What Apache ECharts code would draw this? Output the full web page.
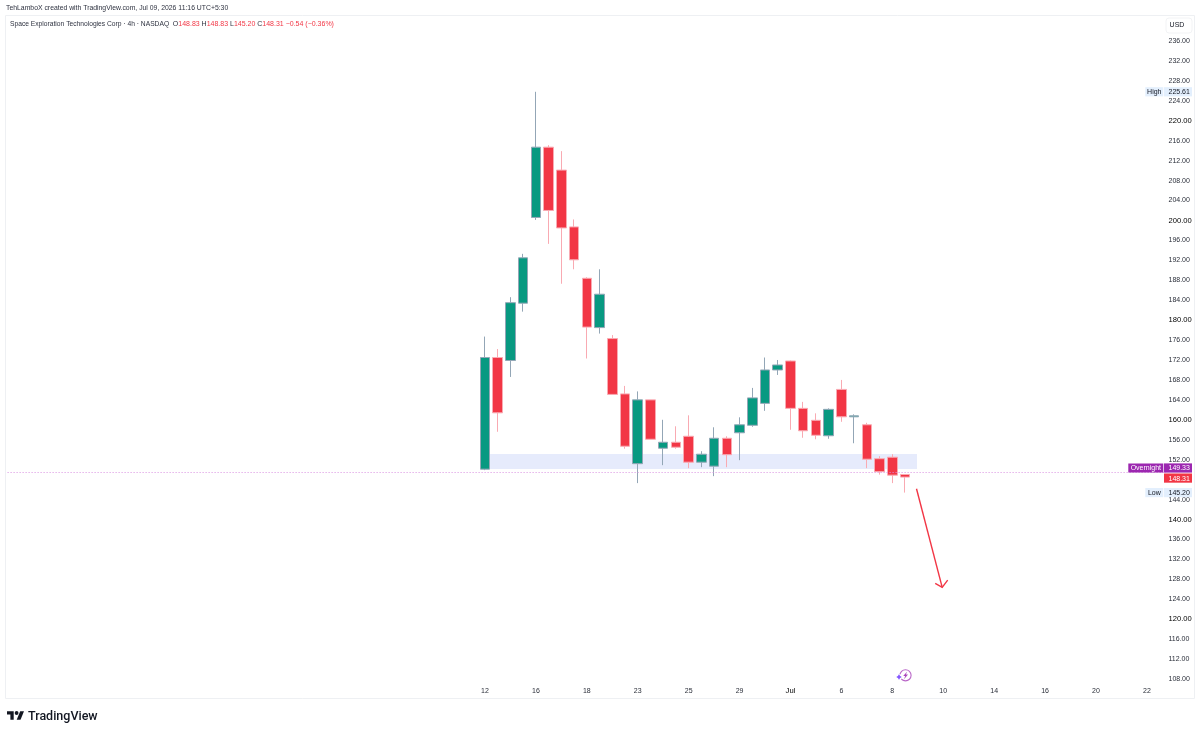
<!DOCTYPE html>
<html>
<head>
<meta charset="utf-8">
<title>Space Exploration Technologies Corp 4h</title>
<script src="https://cdn.jsdelivr.net/npm/echarts@6/dist/echarts.min.js"></script>
<style>
  html, body { margin: 0; padding: 0; background: #ffffff; }
  #chart { width: 1200px; height: 733px; }
</style>
</head>
<body>
<div id="chart"></div>
<script>
// 4h session bars, oldest first
const opens  = [149.9,172.3,171.7,183.2,200.4,214.5,209.9,198.5,188.2,178.3,176.1,165.0,151.0,163.8,154.1,155.3,156.5,151.3,150.5,156.1,157.2,158.7,163.1,169.8,171.6,162.1,159.7,156.6,165.9,160.4,158.8,152.0,152.3,148.83];
const closes = [172.3,161.2,183.3,192.3,214.5,201.8,198.3,191.9,178.4,185.0,164.9,154.5,163.8,155.9,155.3,154.3,151.3,152.9,156.1,152.8,158.8,164.2,169.8,170.8,162.1,157.6,156.7,161.9,160.4,160.6,151.9,149.4,148.7,148.31];
const lows   = [149.7,157.4,168.4,181.5,199.9,195.1,187.1,190.0,172.1,177.1,164.8,154.0,147.1,155.9,150.7,154.0,150.1,150.3,148.5,150.3,151.7,158.4,161.6,168.8,157.8,156.2,155.9,156.0,159.4,155.1,150.1,148.8,147.1,145.20];
const highs  = [176.5,174.0,184.4,193.1,225.61,214.9,213.7,200.0,188.4,190.0,176.8,166.6,165.5,163.8,159.8,158.5,160.7,153.5,158.3,156.5,160.3,166.2,172.3,171.8,171.7,163.4,161.1,162.1,167.8,160.9,159.2,152.5,152.9,148.83];

// One date label every fourth bar, running on past the last bar
const dateLabels = ['12','16','18','23','25','29','Jul','6','8','10','14','16','20','22'];
const barsPerLabel = 4;
const leadingBars = 37;
const totalBars = 91;

// Price scale
const priceMin = 104;
const priceMax = 241;
const priceStep = 4;
const priceLabelTop = 236;
const priceLabelBottom = 108;
const majorPriceStep = 20;

// Reference levels
const overnightPrice = 149.33;
const closePrice = 148.31;
const highPrice = 225.61;
const lowPrice = 145.20;

// Support zone: [first bar, last bar, upper price, lower price]
const zoneBars = [37.4, 70.94];
const zonePrices = [152.93, 149.92];

// Hand-drawn arrow as [bar position, price]
const arrowShaft = [[70.9, 145.97], [72.92, 126.19]];
const arrowHead = [[72.37, 127.0], [72.92, 126.19], [73.35, 127.65]];

const GREEN = '#089981', RED = '#f23645', PURPLE = '#9c27b0';
const GREEN_EDGE = '#93a6b6', RED_EDGE = '#f9aab2';
const TEXT = '#131722', TAG_BG = '#e3effd';
const FONT = '"Liberation Sans", Arial, sans-serif';
const SMALL = '7px ' + FONT;

const categories = [];
for (let i = 0; i < totalBars; i++) {
  const k = (i - leadingBars) / barsPerLabel;
  categories.push(i >= leadingBars && Number.isInteger(k) && k < dateLabels.length ? dateLabels[k] : '');
}

const candles = opens.map((o, i) => [leadingBars + i, o, closes[i], lows[i], highs[i]]);

// Price-scale tags: caption box (optional) beside a value box
const tags = [
  { value: highPrice, caption: 'High', bg: TAG_BG, fg: TEXT, capW: 18, shift: 0 },
  { value: lowPrice, caption: 'Low', bg: TAG_BG, fg: TEXT, capW: 18, shift: 0 },
  { value: closePrice, caption: '', bg: RED, fg: '#ffffff', capW: 0, shift: 1 },
  { value: overnightPrice, caption: 'Overnight', bg: PURPLE, fg: '#ffffff', capW: 35, shift: -4 }
];

const chart = echarts.init(document.getElementById('chart'), null, { renderer: 'canvas' });

chart.setOption({
  animation: false,
  backgroundColor: '#ffffff',
  grid: { left: 7.6, top: 15.08, width: 1158.4, height: 682.86, containLabel: false },
  xAxis: [
    {
      type: 'category',
      data: categories,
      axisLine: { show: false },
      axisTick: { show: false },
      splitLine: { show: false },
      axisLabel: {
        inside: true, interval: 0, margin: 3, hideOverlap: false,
        color: '#2a2e39', fontSize: 7, fontFamily: FONT,
        formatter: v => (v === 'Jul' ? '{major|Jul}' : v),
        rich: { major: { fontSize: 7.6, color: '#000000', fontFamily: FONT } }
      }
    },
    // Continuous bar-position scale for the drawings over the candles
    { type: 'value', min: -0.5, max: totalBars - 0.5, show: false }
  ],
  yAxis: {
    type: 'value',
    position: 'right',
    min: priceMin,
    max: priceMax,
    interval: priceStep,
    scale: true,
    axisLine: { show: false },
    axisTick: { show: false },
    splitLine: { show: false },
    axisLabel: {
      margin: 2.5, hideOverlap: false, align: 'left',
      padding: [2, 0, 0, 0],
      color: '#2a2e39', fontSize: 7, fontFamily: FONT,
      formatter: v => {
        if (v < priceLabelBottom || v > priceLabelTop) return '';
        return v % majorPriceStep === 0 ? '{major|' + v.toFixed(2) + '}' : v.toFixed(2);
      },
      rich: { major: { fontSize: 7.6, color: '#000000', fontFamily: FONT } }
    }
  },
  series: [
    {
      type: 'custom',
      z: 1,
      silent: true,
      xAxisIndex: 1,
      data: [[zoneBars[0], zoneBars[1], zonePrices[0], zonePrices[1]]],
      encode: { x: [0, 1], y: [2, 3] },
      renderItem: (params, api) => {
        const a = api.coord([api.value(0), api.value(2)]);
        const b = api.coord([api.value(1), api.value(3)]);
        return { type: 'rect', shape: { x: a[0], y: a[1], width: b[0] - a[0], height: b[1] - a[1] },
                 style: { fill: '#e6ebfc' } };
      }
    },
    {
      type: 'candlestick',
      z: 3,
      barWidth: 10,
      encode: { x: 0, y: [1, 2, 3, 4] },
      data: candles,
      itemStyle: {
        color: GREEN, color0: RED,
        borderColor: GREEN_EDGE, borderColor0: RED_EDGE, borderWidth: 1
      },
      markLine: {
        silent: true,
        symbol: 'none',
        label: { show: false },
        lineStyle: { color: '#d98fe0', type: [1, 2], width: 1 },
        data: [{ yAxis: overnightPrice }]
      }
    },
    {
      type: 'custom',
      z: 4,
      silent: true,
      clip: false,
      xAxisIndex: 1,
      data: [[0, 0]],
      renderItem: (params, api) => {
        const pt = p => api.coord(p);
        const stroke = { stroke: RED, lineWidth: 1.4, fill: null };
        return {
          type: 'group',
          children: [
            { type: 'polyline', shape: { points: arrowShaft.map(pt) }, style: stroke },
            { type: 'polyline', shape: { points: arrowHead.map(pt) }, style: stroke }
          ]
        };
      }
    },
    {
      type: 'custom',
      z: 5,
      silent: true,
      clip: false,
      data: tags.map((t, i) => [i, t.value]),
      encode: { y: 1 },
      renderItem: (params, api) => {
        const t = tags[api.value(0)];
        const y = api.coord([0, t.value])[1] + t.shift;
        const h = 9.2, valX = 1164, valW = 28;
        const kids = [
          { type: 'rect', shape: { x: valX, y: y - h / 2, width: valW, height: h }, style: { fill: t.bg } },
          { type: 'text', style: { x: valX + 4.5, y: y + 0.5, text: t.value.toFixed(2), fill: t.fg,
              font: SMALL, align: 'left', verticalAlign: 'middle' } }
        ];
        if (t.caption) {
          kids.push(
            { type: 'rect', shape: { x: valX - 0.7 - t.capW, y: y - h / 2, width: t.capW, height: h }, style: { fill: t.bg } },
            { type: 'text', style: { x: valX - 0.7 - t.capW / 2, y: y + 0.5, text: t.caption, fill: t.fg,
                font: SMALL, align: 'center', verticalAlign: 'middle' } }
          );
        }
        return { type: 'group', children: kids };
      }
    }
  ],
  graphic: {
    elements: [
      { type: 'rect', silent: true, z: 0, shape: { x: 5.5, y: 15.5, width: 1189, height: 683 },
        style: { fill: null, stroke: '#eef0f3', lineWidth: 1 } },
      { type: 'rect', silent: true, z: 1, shape: { x: 1166, y: 18, width: 26, height: 15, r: 3 },
        style: { fill: '#ffffff', stroke: '#f2f3f5', lineWidth: 1 } },
      { type: 'text', silent: true, z: 2, style: { x: 1177, y: 25.5, text: 'USD', fill: TEXT,
          font: SMALL, align: 'center', verticalAlign: 'middle' } },
      { type: 'text', silent: true, z: 2, style: { x: 6, y: 8, text: 'TehLamboX created with TradingView.com, Jul 09, 2026 11:16 UTC+5:30',
          fill: '#2e3240', font: '6.85px ' + FONT, verticalAlign: 'middle' } },
      { type: 'text', silent: true, z: 2, style: {
          x: 10, y: 24, verticalAlign: 'middle',
          text: '{p|Space Exploration Technologies Corp · 4h · NASDAQ  }{k|O}{v|148.83} {k|H}{v|148.83} {k|L}{v|145.20} {k|C}{v|148.31} {v|−0.54 (−0.36%)}',
          fill: '#2e3240', font: SMALL,
          rich: {
            p: { fill: '#2e3240', font: '6.7px ' + FONT },
            k: { fill: '#2e3240', font: SMALL },
            v: { fill: RED, font: SMALL }
          }
        } },
      // Brand mark in the footer
      { type: 'polygon', silent: true, z: 2, shape: { points: [[7, 711.2], [13.7, 711.2], [13.7, 719.7], [10.4, 719.7], [10.4, 714.4], [7, 714.4]] },
        style: { fill: '#131722' } },
      { type: 'circle', silent: true, z: 2, shape: { cx: 16.6, cy: 713, r: 1.9 }, style: { fill: '#131722' } },
      { type: 'polygon', silent: true, z: 2, shape: { points: [[20.2, 711.2], [24, 711.2], [20.5, 719.7], [16.7, 719.7]] },
        style: { fill: '#131722' } },
      { type: 'text', silent: true, z: 2, style: { x: 28, y: 716.5, text: 'TradingView', fill: '#131722',
          font: '500 12.5px Roboto, ' + FONT, verticalAlign: 'middle' } },
      // Session marker on the time scale
      { type: 'circle', silent: true, z: 6, shape: { cx: 905.5, cy: 675.3, r: 5.6 },
        style: { fill: '#ffffff', stroke: '#ba68c8', lineWidth: 1.1 } },
      { type: 'polygon', silent: true, z: 7, shape: { points: [[907.2, 671.5], [903.2, 676], [905.2, 676], [904, 679.3], [908, 674.6], [905.9, 674.6]] },
        style: { fill: '#ab47bc' } },
      { type: 'circle', silent: true, z: 7, shape: { cx: 899, cy: 677, r: 3 }, style: { fill: '#ffffff' } },
      { type: 'line', silent: true, z: 8, shape: { x1: 896.8, y1: 677, x2: 901.2, y2: 677 },
        style: { stroke: '#7c4dff', lineWidth: 1.5 } },
      { type: 'line', silent: true, z: 8, shape: { x1: 899, y1: 674.8, x2: 899, y2: 679.2 },
        style: { stroke: '#7c4dff', lineWidth: 1.5 } }
    ]
  }
});
</script>
</body>
</html>
